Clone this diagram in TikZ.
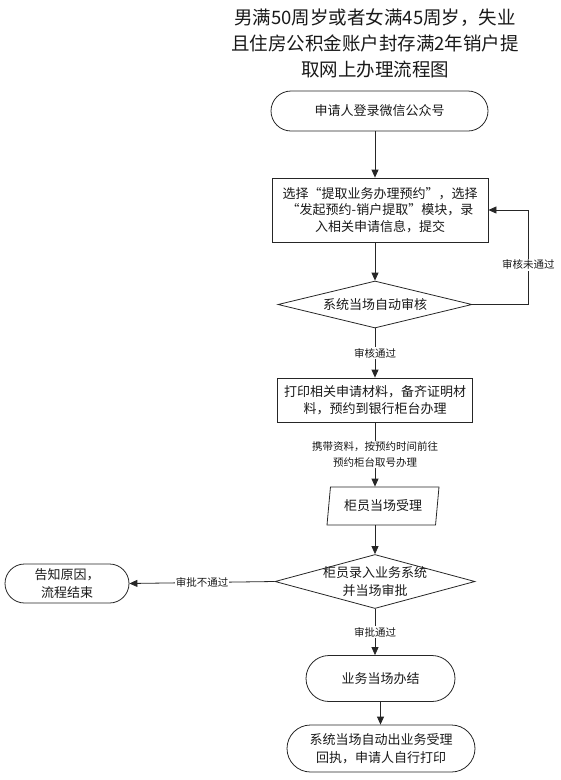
\documentclass[tikz,border=0pt]{standalone}
\usepackage{fontspec}
\setmainfont{Noto Sans CJK SC}
\usetikzlibrary{shapes.geometric,arrows.meta}
\begin{document}
\begin{tikzpicture}[x=1pt,y=-1pt,
  line width=0.8pt,
  base/.style={draw=black!85, text=black!90, inner sep=0pt, align=center,
    font=\fontsize{13}{17}\selectfont},
  term/.style={base, rounded corners=#1},
  boxs/.style={base, rectangle},
  dia/.style={base, diamond},
  para/.style={base, trapezium, trapezium left angle=74, trapezium right angle=106, trapezium stretches body=true},
  txt/.style={align=center, inner sep=0pt, text=black!90, font=\fontsize{13}{18}\selectfont},
  lbl/.style={align=center, inner sep=1pt, fill=white, text=black!90, font=\fontsize{10.5}{16}\selectfont},
  arr/.style={draw=black!85, -{Triangle[length=8pt,width=7pt]}}]
\useasboundingbox (0,0) rectangle (561,780);
\coordinate (ax) at (375,0);

\node[txt, font=\fontsize{18.5}{26}\selectfont] (title) at (375,43)
  {男满50周岁或者女满45周岁，失业\\且住房公积金账户封存满2年销户提\\取网上办理流程图};

\node[term=20pt, minimum width=217pt, minimum height=40pt] (t1) at (379.5,111) {申请人登录微信公众号};
\node[boxs, minimum width=216pt, minimum height=64pt, font=\fontsize{13}{16.5}\selectfont] (b2) at (380,210)
  {选择“提取业务办理预约”，选择\\“发起预约-销户提取”模块，录\\入相关申请信息，提交};
\node[dia, minimum width=194pt, minimum height=47pt] (d1) at (375,304.5) {};
\node[txt] at (d1) {系统当场自动审核};
\node[boxs, minimum width=195pt, minimum height=44pt] (b3) at (375,400)
  {打印相关申请材料，备齐证明材\\料，预约到银行柜台办理};
\node[para, minimum width=112pt, minimum height=38pt] (p1) at (383,506) {柜员当场受理};
\node[dia, minimum width=200pt, minimum height=54pt] (d2) at (375,581.5) {};
\node[txt] at (d2) {柜员录入业务系统\\并当场审批};
\node[term=19.5pt, minimum width=124pt, minimum height=39pt, font=\fontsize{13}{18}\selectfont] (t2) at (67,583.5) {告知原因，\\流程结束};
\node[term=23pt, minimum width=149pt, minimum height=46pt] (t3) at (380.5,678.5) {业务当场办结};
\node[term=23.5pt, minimum width=188pt, minimum height=47pt, font=\fontsize{13}{18}\selectfont] (t4) at (381,748.5) {系统当场自动出业务受理\\回执，申请人自行打印};

\draw[arr] (t1.south -| ax) -- (b2.north -| ax);
\draw[arr] (b2.south -| ax) -- (d1.north);
\draw[arr] (d1.east) -- ++(56,0) |- (b2.east) node[lbl, pos=0.21] {审核未通过};
\draw[arr] (d1.south) -- (b3.north -| ax) node[lbl, midway] {审核通过};
\draw[arr] (b3.south -| ax) -- (p1.north -| ax) node[lbl, midway] {携带资料，按预约时间前往\\预约柜台取号办理};
\draw[arr] (p1.south -| ax) -- (d2.north);
\draw[arr] (d2.west) -- (t2.east) node[lbl, midway] {审批不通过};
\draw[arr] (d2.south) -- (t3.north -| ax) node[lbl, midway] {审批通过};
\draw[arr] (t3.south) -- (t4.north -| t3);
\end{tikzpicture}
\end{document}
